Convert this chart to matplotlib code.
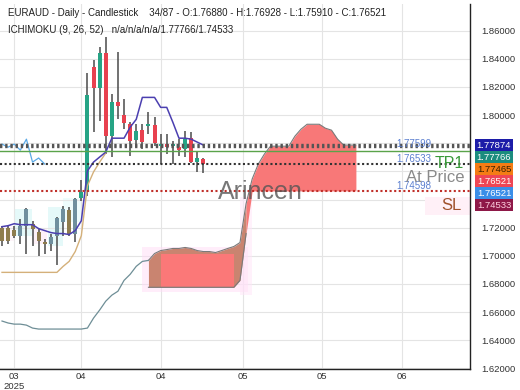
import numpy as np
import matplotlib
matplotlib.use("Agg")
import matplotlib.pyplot as plt
from matplotlib.patches import Rectangle

plt.rcParams['font.family'] = ['Liberation Sans', 'DejaVu Sans']

# ---------------- data ----------------
opens  = [1.7200, 1.7200, 1.7186, 1.7143, 1.7214, 1.7228, 1.7172, 1.7101, 1.7087, 1.7143,
          1.7242, 1.7327, 1.7158, 1.7412, 1.7461, 1.8345, 1.8196, 1.8444, 1.7850, 1.8090,
          1.7999, 1.7935, 1.7822, 1.7893, 1.7921, 1.7928, 1.7779, 1.7794, 1.7779, 1.7772,
          1.7758, 1.7836, 1.7666, 1.76880]
highs  = [1.7214, 1.7214, 1.7214, 1.7264, 1.7341, 1.7249, 1.7193, 1.7122, 1.7158, 1.7278,
          1.7355, 1.7348, 1.7412, 1.7539, 1.8302, 1.8394, 1.8486, 1.8557, 1.8147, 1.8451,
          1.8112, 1.7949, 1.7935, 1.7935, 1.8020, 1.7984, 1.7864, 1.7864, 1.7815, 1.7829,
          1.7885, 1.7878, 1.7744, 1.76928]
lows   = [1.7066, 1.7087, 1.7129, 1.7087, 1.7016, 1.7066, 1.6995, 1.7016, 1.7037, 1.6931,
          1.7143, 1.7143, 1.7101, 1.7391, 1.7426, 1.7878, 1.7956, 1.7723, 1.7702, 1.7970,
          1.7900, 1.7709, 1.7772, 1.7758, 1.7864, 1.7779, 1.7652, 1.7723, 1.7652, 1.7709,
          1.7702, 1.7659, 1.7596, 1.75910]
closes = [1.7108, 1.7108, 1.7143, 1.7214, 1.7334, 1.7193, 1.7108, 1.7087, 1.7136, 1.7271,
          1.7334, 1.7158, 1.7405, 1.7454, 1.8140, 1.8196, 1.8444, 1.7850, 1.8090, 1.8062,
          1.7942, 1.7815, 1.7885, 1.7808, 1.7935, 1.7801, 1.7794, 1.7772, 1.7794, 1.7751,
          1.7829, 1.7666, 1.7695, 1.76521]

tenkan = [1.7207, 1.7214, 1.7228, 1.7221, 1.7221, 1.7221, 1.7193, 1.7179, 1.7165, 1.7158,
          1.7158, 1.7151, 1.7179, 1.7249, 1.7603, 1.7666, 1.7702, 1.7737, 1.7836, 1.7836,
          1.7836, 1.7914, 1.7970, 1.8126, 1.8126, 1.8126, 1.8055, 1.8055, 1.7949, 1.7836,
          1.7836, 1.7829, 1.7808, 1.7787]
kijun = [1.6882, 1.6882, 1.6882, 1.6882, 1.6882, 1.6882, 1.6882, 1.6882, 1.6882, 1.6882,
         1.6924, 1.6960, 1.7030, 1.7143, 1.7497, 1.7596, 1.7666, 1.7730]
past_span = [1.6536, 1.6522, 1.6514, 1.6514, 1.6507, 1.6486, 1.6479, 1.6479, 1.6479, 1.6479,
             1.6479, 1.6479, 1.6479, 1.6479, 1.6486, 1.6557, 1.6614, 1.6677, 1.6720, 1.6748,
             1.6825, 1.6868, 1.6925, 1.6960, 1.6967]
span_a = [1.6967, 1.7016, 1.7037, 1.7044, 1.7052, 1.7052, 1.7059, 1.7052, 1.7037, 1.7030,
          1.7030, 1.7023, 1.7037, 1.7052, 1.7066, 1.7094, 1.7370, 1.7546, 1.7652, 1.7723,
          1.7779, 1.7779, 1.7779, 1.7779, 1.7850, 1.7900, 1.7935, 1.7935, 1.7935, 1.7907,
          1.7893, 1.7829, 1.7787, 1.7787, 1.7787]
span_b = [1.6776] * 15 + [1.6825, 1.7158] + [1.7461] * 18
cloud_start = 24
chikou_shift = 26

levels_dotted_top = [1.77874, 1.77766]
level_tp = 1.77465
level_price = 1.76533
level_sl = 1.74598
line_labels = ["1.77599", "1.76533", "1.74598"]
line_label_vals = [1.77599, 1.76533, 1.74598]

box_vals = [1.77874, 1.77766, 1.77465, 1.76521, 1.76521, 1.74533]
box_colors = ['#1c1ca8', '#1b8c7e', '#f47c14', '#ee4655', '#3a8ee8', '#8e1848']
box_text_colors = ['white', 'white', '#3a2000', 'white', 'white', '#ffd0e0']

ytick_vals = [1.62, 1.64, 1.66, 1.68, 1.70, 1.72, 1.74, 1.76, 1.78, 1.80, 1.82, 1.84, 1.86]
ytick_labels = ['1.62000', '1.64000', '1.66000', '1.68000', '1.70000', '1.72000', '', '', '',
                '1.80000', '1.82000', '1.84000', '1.86000']
xtick_pos = [2, 13, 26, 39.5, 52.5, 65.5]
xtick_labels = ['03\n2025', '04', '04', '05', '05', '06']

header1 = "EURAUD - Daily - Candlestick    34/87 - O:1.76880 - H:1.76928 - L:1.75910 - C:1.76521"
header2 = "ICHIMOKU (9, 26, 52)   n/a/n/a/n/a/1.77766/1.74533"

# ---------------- figure ----------------
W, H = 520, 390
fig = plt.figure(figsize=(W / 100, H / 100), dpi=100)
ax = fig.add_axes([0, 1 - 369 / H, 470 / W, (369 - 4) / H])
ax.set_xlim(-0.33, 76.7)
ax.set_ylim(1.6195, 1.8790)

n = len(closes)
idx = np.arange(n)
o = np.array(opens); h = np.array(highs); l = np.array(lows); c = np.array(closes)
up = c >= o
muted = idx < 13
col = np.where(up, '#26a485', '#e8414f')
col = np.where(muted & up, '#6f8f9e', col)
col = np.where(muted & ~up, '#8e7c4e', col)

# grid
ax.set_yticks(ytick_vals)
ax.set_yticklabels(ytick_labels)
ax.set_xticks(xtick_pos)
ax.set_xticklabels(xtick_labels)
ax.grid(True, color='#e4e4e4', lw=0.8, zorder=0)
ax.set_axisbelow(True)
ax.yaxis.tick_right()
ax.tick_params(axis='y', length=0, pad=8, labelsize=6.8, colors='#333333')
ax.tick_params(axis='x', length=0, pad=2, labelsize=6.8, colors='#333333')
for s in ['left', 'top']:
    ax.spines[s].set_visible(False)
for s in ['right', 'bottom']:
    ax.spines[s].set_color('#222222')
    ax.spines[s].set_linewidth(1.0)

# faint highlight zones on early candles
for (x0, x1, y0, y1, fc) in [(2.1, 4.9, 1.7143, 1.7334, '#d4f6f6'),
                             (7.5, 10.0, 1.7066, 1.7348, '#d4f6f6'),
                             (10.0, 13.0, 1.7242, 1.7412, '#e4fafa'),
                             (4.9, 7.4, 1.7087, 1.7193, '#fce8f4'),
                             (-0.3, 2.1, 1.7108, 1.7214, '#fdeef6')]:
    ax.add_patch(Rectangle((x0, y0), x1 - x0, y1 - y0, fc=fc, ec='none', alpha=0.6, zorder=0.5))

# cloud
ci = np.arange(cloud_start, cloud_start + len(span_a))
sa = np.array(span_a); sb = np.array(span_b)
left = ci <= cloud_start + 16
right = ci >= cloud_start + 16
# glows
ax.add_patch(Rectangle((23.0, 1.6740), 17.3, 0.0325, fc='#ffdcf6', ec='none', alpha=0.5, zorder=0.6))
ax.add_patch(Rectangle((39.0, 1.672), 2.0, 0.070, fc='#ffe4f8', ec='none', alpha=0.5, zorder=0.6))
ax.fill_between(ci[left], sb[left], sa[left], color='#c98470', lw=0, zorder=1)
inner = (ci >= 26) & (ci <= 38.7)
ax.fill_between(ci[inner], sb[inner], np.minimum(sa[inner], 1.7016), color='#fb7878', lw=0, zorder=1.1)
ax.fill_between(ci[right], sb[right], sa[right], color='#f87878', lw=0, zorder=1)
ax.plot(ci, sa, color='#7a7a7a', lw=0.8, zorder=1.2)
ax.plot(ci[left], sb[left], color='#7a7a7a', lw=0.8, zorder=1.2)
ax.plot(np.arange(len(past_span)), past_span, color='#6e8e96', lw=0.9, zorder=1.2)

# candles
ax.vlines(idx, l, h, color='#4a4a4a', lw=1.1, zorder=3)
body_bot = np.minimum(o, c)
body_h = np.maximum(np.abs(c - o), 0.0012)
ax.bar(idx, body_h, bottom=body_bot, width=0.65, color=col, lw=0, zorder=4)

# ichimoku lines
ax.plot(idx, tenkan, color='#4b3fb0', lw=1.1, zorder=5)
ax.plot(np.arange(len(kijun)), kijun, color='#d4b07a', lw=1.0, zorder=4.8)
chikou = c[chikou_shift:]
ax.plot(np.arange(len(chikou)), chikou, color='#5aa9e6', lw=0.9, zorder=5)

# horizontal levels
for v in levels_dotted_top:
    ax.axhline(v, color='#555555', lw=1.7, ls=(0, (1, 1.2)), zorder=6)
ax.axhline(level_tp, color='#5aa34a', lw=1.0, zorder=6)
ax.axhline(level_price, color='#333333', lw=1.5, ls=(0, (1, 1.2)), zorder=6)
ax.axhline(level_sl, color='#c0302a', lw=1.5, ls=(0, (1, 1.2)), zorder=6)

for t, v in zip(line_labels, line_label_vals):
    ax.text(396 / 470, v, t, transform=ax.get_yaxis_transform(), ha='left', va='bottom',
            fontsize=7, color='#5b7fd0', zorder=7)

# SL glow
ax.add_patch(Rectangle((0.904, 0.422), 0.096, 0.05, transform=ax.transAxes, fc='#fff0f7',
                       ec='none', zorder=1))

ax.text(464 / 470, (369 - 163) / 365, "TP1", transform=ax.transAxes, ha='right', va='center',
        fontsize=11.5, color='#3a9a3a', zorder=7)
ax.text(464 / 470, (369 - 177) / 365, "At Price", transform=ax.transAxes, ha='right', va='center',
        fontsize=12, color='#8a8a8a', zorder=7)
ax.text(462 / 470, (369 - 206) / 365, "SL", transform=ax.transAxes, ha='right', va='center',
        fontsize=12, color='#a0522d', zorder=7)
ax.text(260 / 470, (369 - 192) / 365, "Arincen", transform=ax.transAxes, ha='center', va='center',
        fontsize=18, color='#555555', alpha=0.8, zorder=7)

# price boxes on the right axis (stacked to avoid overlap)
gap = 12 / 365 * (1.8790 - 1.6195)
prev = None
for v, bc, tc in zip(box_vals, box_colors, box_text_colors):
    yv = v if prev is None else min(v, prev - gap)
    prev = yv
    ax.text(494 / 470, yv, f"{v:.5f}", transform=ax.get_yaxis_transform(), ha='center',
            va='center', fontsize=6.8, color=tc, clip_on=False, zorder=10,
            bbox=dict(boxstyle='square,pad=0.2', fc=bc, ec='none'))

fig.text(8 / W, 1 - 13 / H, header1, fontsize=7, va='center', color='#222222')
fig.text(8 / W, 1 - 30 / H, header2, fontsize=7, va='center', color='#222222')

fig.savefig("out.png", dpi=100)
